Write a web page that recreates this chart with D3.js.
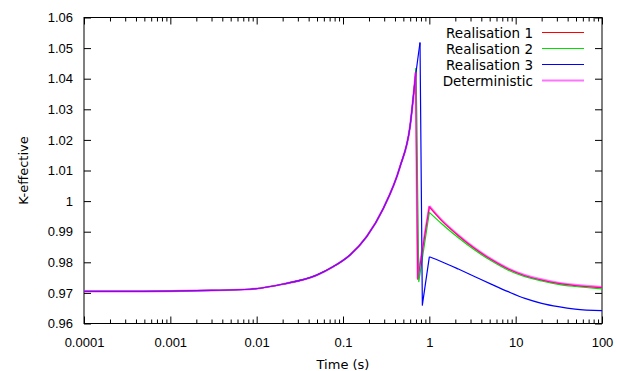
<!DOCTYPE html>
<html>
<head>
<meta charset="utf-8">
<script src="https://cdn.jsdelivr.net/npm/d3@7"></script>
<style>
  html, body { margin: 0; padding: 0; background: #fff; }
  svg { display: block; font-family: "DejaVu Sans", sans-serif; }
  .tick text { font-size: 13px; fill: #000; }
</style>
</head>
<body>
<svg id="chart" width="617" height="371"></svg>
<script>
// Growth phase shared by every run (time in s, k-effective)
const riseTime = [0.0001, 0.0003, 0.001, 0.003, 0.0084, 0.0204, 0.0495, 0.0773, 0.1205, 0.188, 0.293, 0.457, 0.597];
const riseK    = [0.9705, 0.9705, 0.9706, 0.9708, 0.9712, 0.9729, 0.9758, 0.9786, 0.9824, 0.9884, 0.9976, 1.0112, 1.0243];

const seriesNames = ["Realisation 1", "Realisation 2", "Realisation 3", "Deterministic"];

// Approach to the peak, one list per run
const peakTime = [[0.695], [0.702], [0.695, 0.74, 0.78], [0.695]];
const peakK    = [[1.0418], [1.0435], [1.0412, 1.0471, 1.0518], [1.0420]];

// Bottom of the sudden drop after the peak
const dropTime = [0.735, 0.755, 0.83, 0.733];
const dropK    = [0.9745, 0.9737, 0.9660, 0.9748];

// Slow decay after the drop
const tailTime = [1, 1.39, 2.17, 3.38, 5.27, 8.2, 12.8, 20, 31.2, 48.7, 100];
const tailK1   = [0.9981, 0.9936, 0.9887, 0.9844, 0.9808, 0.9778, 0.9756, 0.9742, 0.9731, 0.9724, 0.9717];
const tailK2   = [0.9963, 0.9926, 0.9880, 0.9839, 0.9804, 0.9774, 0.9753, 0.9739, 0.9728, 0.9721, 0.9713];
const tailK3   = [0.9818, 0.9802, 0.9778, 0.9753, 0.9728, 0.9704, 0.9682, 0.9666, 0.9655, 0.9647, 0.9642];
const tailKdet = [0.9984, 0.9938, 0.9889, 0.9846, 0.9810, 0.9780, 0.9758, 0.9744, 0.9733, 0.9726, 0.9719];
const tailK = [tailK1, tailK2, tailK3, tailKdet];

const xDecades = [0.0001, 0.001, 0.01, 0.1, 1, 10, 100];
const yTicks = [0.96, 0.97, 0.98, 0.99, 1.00, 1.01, 1.02, 1.03, 1.04, 1.05, 1.06];

// Styling
const colors = ["#ff0000", "#00e000", "#0000ff", "#ff00ff"];
const widths = [1.2, 1.2, 1.2, 2.2];
const opacities = [1, 1, 1, 0.55];

const svg = d3.select("#chart");
const m = { left: 84, right: 15, top: 17.5, bottom: 47.5 };
const W = 617, H = 371;
const x = d3.scaleLog().domain([0.0001, 100]).range([m.left, W - m.right]);
const y = d3.scaleLinear().domain([0.96, 1.06]).range([H - m.bottom, m.top]);

const fmt = d => d3.format("~g")(+d.toPrecision(6));

// Minor ticks (2..9 within each decade)
const minor = [];
xDecades.slice(0, -1).forEach(d => { for (let k = 2; k <= 9; k++) minor.push(d * k); });

function styleAxis(g) {
  g.select(".domain").remove();
  g.selectAll(".tick line").attr("stroke", "#000").attr("stroke-width", 1);
}

// Bottom axis
svg.append("g").attr("transform", `translate(0,${y(0.96)})`)
  .call(d3.axisBottom(x).tickValues(xDecades).tickFormat(fmt).tickSizeInner(-7).tickSizeOuter(0).tickPadding(14))
  .call(styleAxis);
svg.append("g").attr("transform", `translate(0,${y(0.96)})`)
  .call(d3.axisBottom(x).tickValues(minor).tickFormat("").tickSizeInner(-4).tickSizeOuter(0))
  .call(styleAxis);
// Top mirror
svg.append("g").attr("transform", `translate(0,${y(1.06)})`)
  .call(d3.axisTop(x).tickValues(xDecades).tickFormat("").tickSizeInner(-7).tickSizeOuter(0))
  .call(styleAxis);
svg.append("g").attr("transform", `translate(0,${y(1.06)})`)
  .call(d3.axisTop(x).tickValues(minor).tickFormat("").tickSizeInner(-4).tickSizeOuter(0))
  .call(styleAxis);
// Left axis
svg.append("g").attr("transform", `translate(${x(0.0001)},0)`)
  .call(d3.axisLeft(y).tickValues(yTicks).tickFormat(fmt).tickSizeInner(-7).tickSizeOuter(0).tickPadding(11))
  .call(styleAxis);
// Right mirror
svg.append("g").attr("transform", `translate(${x(100)},0)`)
  .call(d3.axisRight(y).tickValues(yTicks).tickFormat("").tickSizeInner(-7).tickSizeOuter(0))
  .call(styleAxis);

// Plot border
svg.append("rect")
  .attr("x", x(0.0001)).attr("y", y(1.06))
  .attr("width", x(100) - x(0.0001)).attr("height", y(0.96) - y(1.06))
  .attr("fill", "none").attr("stroke", "#000").attr("stroke-width", 1);

// Axis titles
svg.append("text").attr("x", (x(0.0001) + x(100)) / 2).attr("y", 369)
  .attr("text-anchor", "middle").attr("font-size", 13).text("Time (s)");
svg.append("text")
  .attr("transform", `translate(23,${(y(0.96) + y(1.06)) / 2}) rotate(-90)`)
  .attr("text-anchor", "middle").attr("dominant-baseline", "central")
  .attr("font-size", 13).text("K-effective");

// Curves
const smooth = d3.line().x(d => x(d[0])).y(d => y(d[1])).curve(d3.curveMonotoneX);
const straight = d3.line().x(d => x(d[0])).y(d => y(d[1]));

const plot = svg.append("g");
seriesNames.forEach((name, i) => {
  const rise = riseTime.map((t, j) => [t, riseK[j]])
    .concat(peakTime[i].map((t, j) => [t, peakK[i][j]]));
  const peak = rise[rise.length - 1];
  const tail = tailTime.map((t, j) => [t, tailK[i][j]]);
  const spike = [peak, [dropTime[i], dropK[i]], tail[0]];
  const g = plot.append("g")
    .attr("fill", "none")
    .attr("stroke", colors[i])
    .attr("stroke-width", widths[i])
    .attr("stroke-opacity", opacities[i])
    .attr("stroke-linejoin", "round");
  g.append("path").attr("d", smooth(rise));
  g.append("path").attr("d", straight(spike));
  g.append("path").attr("d", smooth(tail));
});

// Legend
const legend = svg.append("g");
seriesNames.forEach((name, i) => {
  const ly = 32.5 + i * 16;
  legend.append("text").attr("x", 533).attr("y", ly)
    .attr("text-anchor", "end").attr("dominant-baseline", "central")
    .attr("font-size", 13.5).text(name);
  legend.append("line").attr("x1", 542).attr("x2", 584).attr("y1", ly).attr("y2", ly)
    .attr("stroke", colors[i]).attr("stroke-width", widths[i]).attr("stroke-opacity", opacities[i]);
});
</script>
</body>
</html>
